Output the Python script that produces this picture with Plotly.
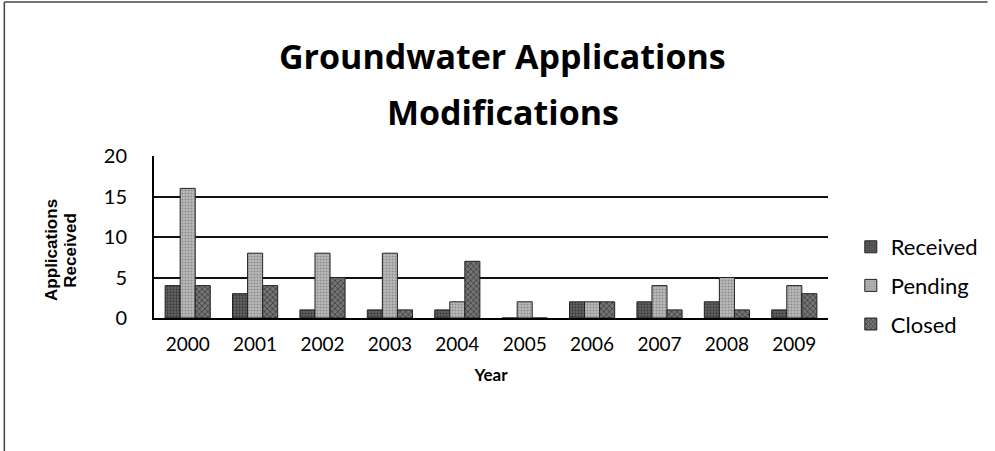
import plotly.graph_objects as go

# --- DATA ---
years = ['2000', '2001', '2002', '2003', '2004', '2005', '2006', '2007', '2008', '2009']
received = [4, 3, 1, 1, 1, 0, 2, 2, 2, 1]
pending = [16, 8, 8, 8, 2, 2, 2, 4, 5, 4]
closed = [4, 4, 5, 1, 7, 0, 2, 1, 1, 3]

# --- STYLES ---
FONT = "Lato, 'Open Sans', sans-serif"
TITLE_FONT = "'Open Sans', Lato, sans-serif"

# plot area in pixels (995 x 451 page)
W, H = 995, 451
L, R, T, B = 154, 161, 156, 133
pw, ph = W - L - R, H - T - B


def px_x(x):
    return (x - L) / pw


def px_y(y):
    return (H - B - y) / ph


series = [
    ('Received', received, dict(bgcolor='#666666', fgcolor='#111', shape='.', size=3, solidity=0.45)),
    ('Pending', pending, dict(bgcolor='#bcbcbc', fgcolor='#5a5a5a', shape='.', size=3, solidity=0.4)),
    ('Closed', closed, dict(bgcolor='#757575', fgcolor='#111', shape='x', size=4, solidity=0.4)),
]

fig = go.Figure()
for name, vals, pat in series:
    fig.add_trace(go.Bar(
        x=years, y=vals, name=name, legendgroup=name,
        marker=dict(color=pat['bgcolor'], pattern=pat,
                    line=dict(color='#222', width=1)),
    ))

fig.update_layout(
    width=W, height=H,
    margin=dict(l=L, r=R, t=T, b=B),
    paper_bgcolor='white', plot_bgcolor='white',
    font=dict(family=FONT, color='black'),
    barmode='group', bargap=0.33, bargroupgap=0,
    showlegend=True,
    legend=dict(x=px_x(857), y=px_y(226), xanchor='left', yanchor='top',
                font=dict(size=22), tracegroupgap=7, itemwidth=30),
    xaxis=dict(showline=True, linecolor='black', linewidth=2, ticks='',
               tickfont=dict(size=19), showgrid=False, ticklabelstandoff=8,
               title=dict(text='<b>Year</b>', font=dict(size=17), standoff=15)),
    yaxis=dict(range=[0, 20], dtick=5, showline=True, linecolor='black', linewidth=2,
               showgrid=True, gridcolor='#111', gridwidth=1.8, zeroline=False,
               tickfont=dict(size=20), ticks='', ticklabelstandoff=21),
)

# y axis title, two rotated lines
for txt, xpos in [('<b>Applications</b>', 50), ('<b>Received</b>', 69)]:
    fig.add_annotation(text=txt, x=px_x(xpos), y=px_y(250),
                       xref='paper', yref='paper', xanchor='center', yanchor='middle',
                       showarrow=False, textangle=-90,
                       font=dict(size=17, family="'Liberation Sans', Arial"))

# chart title, two lines
fig.add_annotation(text='<b>Groundwater Applications</b>', x=px_x(506), y=px_y(31),
                   xref='paper', yref='paper', xanchor='center', showarrow=False,
                   font=dict(size=34, family=TITLE_FONT))
fig.add_annotation(text='<b>Modifications</b>', x=px_x(506), y=px_y(87),
                   xref='paper', yref='paper', xanchor='center', showarrow=False,
                   font=dict(size=34, family=TITLE_FONT))

# frame lines of the scanned page
fig.add_shape(type='line', xref='paper', yref='paper',
              x0=px_x(3), x1=px_x(995), y0=px_y(2), y1=px_y(2),
              line=dict(color='#444', width=1.5))
fig.add_shape(type='line', xref='paper', yref='paper',
              x0=px_x(3), x1=px_x(3), y0=px_y(2), y1=px_y(451),
              line=dict(color='#444', width=1.5))

fig.write_html("out.html", config={'displayModeBar': False},
               post_script="document.body.style.margin='0';")
